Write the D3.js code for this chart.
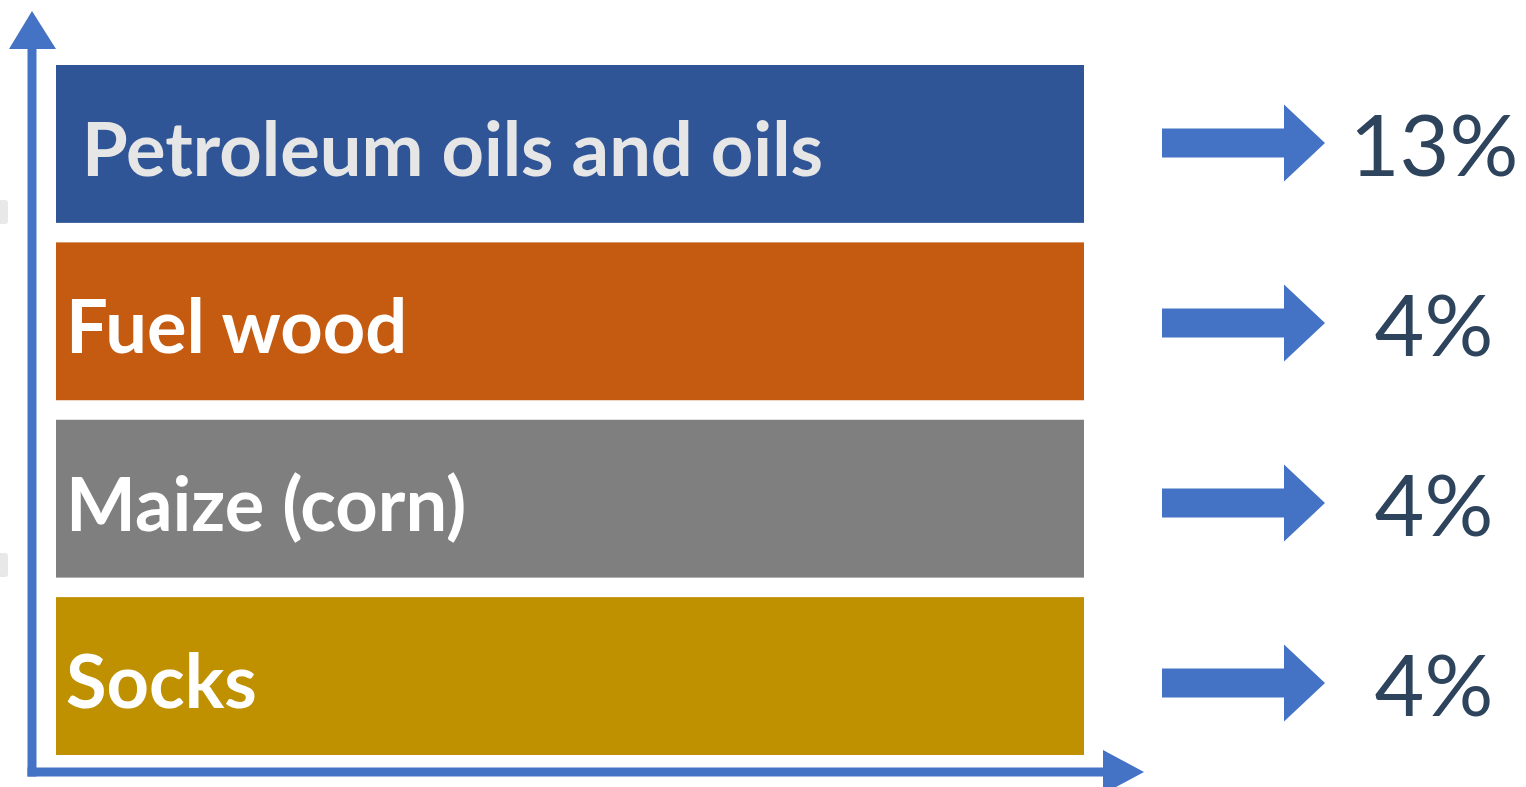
<!DOCTYPE html>
<html>
<head>
<meta charset="utf-8">
<script src="https://cdn.jsdelivr.net/npm/d3@7"></script>
<style>
  html, body { margin: 0; padding: 0; background: #fff; }
  svg { display: block; }
</style>
</head>
<body>
<svg id="board" width="1526" height="787"></svg>
<script>
// chart data
let categories = ['Petroleum oils and oils', 'Fuel wood', 'Maize (corn)', 'Socks']
let shares = [13, 4, 4, 4]
let barColors = ['#2F5597', '#C55A11', '#7F7F7F', '#BF9000']
let labelColors = ['#E7E6E6', '#FFFFFF', '#FFFFFF', '#FFFFFF']

let board = d3.select('#board')

let rows = categories.map((name, i) => {
    return { name: name, share: shares[i], color: barColors[i], labelColor: labelColors[i] }
})

// scales
let yScale = d3.scaleBand()
    .domain(categories)
    .range([65, 755])
    .paddingInner(0.11)

let xScale = d3.scaleLinear()
    .domain([0, 1])
    .range([56, 1084])

let arrowY = d3.scalePoint()
    .domain(categories)
    .range([143, 683])

// little grey tabs on the left edge
board.selectAll('rect.tab')
    .data([200, 553])
    .enter()
    .append('rect')
    .attr('class', 'tab')
    .attr('x', -6)
    .attr('y', (d) => d)
    .attr('width', 14)
    .attr('height', 24)
    .attr('rx', 3)
    .attr('fill', '#E8E8E8')

// axes with arrow heads
let axisColor = '#4472C4'
board.append('line')
    .attr('x1', 32).attr('y1', 45)
    .attr('x2', 32).attr('y2', 776.5)
    .attr('stroke', axisColor)
    .attr('stroke-width', 9)
board.append('line')
    .attr('x1', 27.5).attr('y1', 772)
    .attr('x2', 1106).attr('y2', 772)
    .attr('stroke', axisColor)
    .attr('stroke-width', 9)
board.append('path')
    .attr('d', 'M32,11 L56,49 L9,49 Z')
    .attr('fill', axisColor)
board.append('path')
    .attr('d', 'M1144,772 L1103,750 L1103,794 Z')
    .attr('fill', axisColor)

// bars
let block = board.selectAll('g.row')
    .data(rows)
    .enter()
    .append('g')
    .attr('class', 'row')

block.append('rect')
    .attr('x', xScale(0))
    .attr('y', (d) => yScale(d.name))
    .attr('width', xScale(1) - xScale(0))
    .attr('height', yScale.bandwidth())
    .attr('fill', (d) => d.color)

block.append('text')
    .text((d) => d.name)
    .attr('x', (d, i) => i === 0 ? 82 : 66)
    .attr('y', (d) => yScale(d.name) + 111)
    .attr('fill', (d) => d.labelColor)
    .style('font-family', 'Lato, "Open Sans", sans-serif')
    .style('font-weight', 700)
    .style('font-size', '74px')

// block arrows
block.append('path')
    .attr('d', (d) => {
        let cy = arrowY(d.name)
        let x0 = 1162, x1 = 1284, tip = 1325
        return 'M' + x0 + ',' + (cy - 14.5) +
            ' L' + x1 + ',' + (cy - 14.5) +
            ' L' + x1 + ',' + (cy - 38.5) +
            ' L' + tip + ',' + cy +
            ' L' + x1 + ',' + (cy + 38.5) +
            ' L' + x1 + ',' + (cy + 14.5) +
            ' L' + x0 + ',' + (cy + 14.5) + ' Z'
    })
    .attr('fill', axisColor)

// percentages
block.append('text')
    .text((d) => d.share + '%')
    .attr('x', 1434)
    .attr('y', (d) => arrowY(d.name) + 33)
    .attr('text-anchor', 'middle')
    .attr('fill', '#2E445C')
    .style('font-family', 'Lato, "Open Sans", sans-serif')
    .style('font-weight', 400)
    .style('font-size', '86px')
</script>
</body>
</html>
